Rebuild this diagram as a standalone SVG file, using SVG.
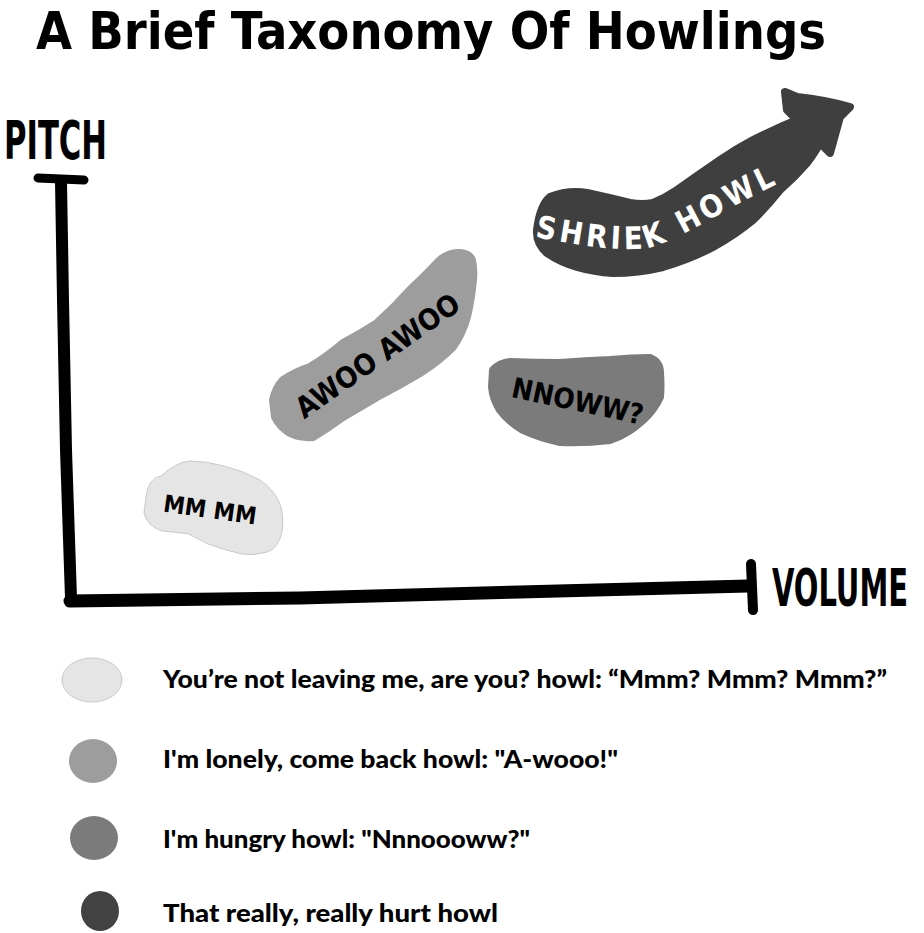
<svg xmlns="http://www.w3.org/2000/svg" width="924" height="933" viewBox="0 0 924 933">
<style>
.hand{font-family:"DejaVu Sans Condensed","Open Sans","Liberation Sans",sans-serif;font-weight:bold}
.leg{font-family:"Lato","Liberation Sans",sans-serif;font-weight:900;font-size:25px;fill:#000}
.blob{stroke-linejoin:round;stroke-width:8}
.axis{fill:none;stroke:#000;stroke-linecap:round;stroke-linejoin:round}
</style>
<rect width="924" height="933" fill="#fff"/>
<g id="title">
<text class="hand" x="36" y="49" font-size="52" textLength="790" lengthAdjust="spacingAndGlyphs">A Brief Taxonomy Of Howlings</text>
</g>
<g id="axes">
<path class="axis" stroke-width="12" d="M61,182 L63,300 L66,450 L71,598"/>
<path class="axis" stroke-width="9" d="M38,178 L84,180"/>
<path class="axis" stroke-width="13" d="M70,601 L300,598 L520,592 L748,586"/>
<path class="axis" stroke-width="10" d="M751,564 L753,610"/>
<text class="hand" x="4" y="159" font-size="54" textLength="103" lengthAdjust="spacingAndGlyphs">PITCH</text>
<g transform="translate(772,606) scale(0.62,1)">
<text class="hand" x="0" y="0" font-size="52">VOLUME</text>
</g>
</g>
<g id="mm-mm">
<path class="blob" fill="#e5e5e5" stroke="#e5e5e5" d="M150,497 Q152,482 163,480 Q176,467 190,465 Q206,465 223,470 Q242,475 257,483 Q272,493 277,507 Q280,520 278,530 Q275,545 267,548 Q255,552 243,550 Q225,546 210,540 Q198,534 190,530 Q176,528 163,527 Q150,522 148,513 Z"/>
<path fill="none" stroke="#c8c8c8" stroke-width="1" d="M146,497 Q148,478 161,476 Q176,462 190,461 Q206,461 224,466 Q244,471 260,480 Q276,491 281,507 Q284,521 282,532 Q278,549 267,552 Q254,556 242,554 Q224,550 208,544 Q196,538 189,534 Q175,532 162,531 Q147,526 144,513 Z"/>
<text class="hand" x="210" y="518" font-size="24" text-anchor="middle" transform="rotate(8 210 510)">MM MM</text>
</g>
<g id="awoo">
<path class="blob" fill="#9d9d9d" stroke="#9d9d9d" d="M273,400 Q276,387 283,380 Q295,372 310,367 Q328,356 343,343 Q360,334 377,323 Q395,307 410,290 Q426,275 440,260 Q450,252 460,253 Q470,254 472,260 Q474,270 473,280 Q471,300 467,317 Q462,334 453,347 Q438,362 420,373 Q398,386 377,397 Q360,407 343,417 Q328,428 313,437 Q300,438 290,433 Q280,427 275,417 Z"/>
<text class="hand" x="377" y="366" font-size="29" text-anchor="middle" transform="rotate(-35 377 355)">AWOO AWOO</text>
</g>
<g id="nnoww">
<path class="blob" fill="#7b7b7b" stroke="#7b7b7b" d="M493,370 Q500,363 510,362 Q535,363 560,363 Q585,361 610,360 Q632,358 650,358 Q660,362 660,373 Q661,386 660,397 Q654,410 643,420 Q628,434 610,440 Q585,443 560,442 Q540,438 523,430 Q508,421 500,410 Q493,399 492,387 Z"/>
<text class="hand" x="578" y="411" font-size="28" text-anchor="middle" transform="rotate(12 578 400)">NNOWW?</text>
</g>
<g id="shriek-howl">
<path class="blob" fill="#3f3f3f" stroke="#3f3f3f" stroke-width="4" d="M537,230 Q540,205 550,197 Q568,190 587,193 Q610,198 630,203 Q642,205 653,203 Q665,198 677,190 Q698,175 720,160 Q736,149 753,140 Q775,129 797,120 L787,110 L785,92 L797,97 Q825,100 850,107 L840,117 L830,153 L820,143 Q815,152 807,163 Q795,177 780,190 Q768,205 753,220 Q735,235 713,247 Q690,259 663,267 Q638,273 613,273 Q594,272 577,267 Q560,262 547,253 Q536,243 537,230 Z"/>
<path id="shriekPath" fill="none" d="M535,237 C570,243 610,252 648,248 C685,238 730,205 782,182"/>
<text class="hand" font-size="31" fill="#fff"><textPath href="#shriekPath" textLength="258" lengthAdjust="spacing">SHRIEK HOWL</textPath></text>
</g>
<g id="legend">
<g id="legend-1">
<ellipse cx="92" cy="680" rx="30" ry="22" fill="#e5e5e5" stroke="#c8c8c8" stroke-width="1"/>
<text class="leg" x="163" y="688" textLength="724" lengthAdjust="spacingAndGlyphs">You’re not leaving me, are you? howl: “Mmm? Mmm? Mmm?”</text>
</g>
<g id="legend-2">
<ellipse cx="93" cy="761" rx="24" ry="22" fill="#9d9d9d"/>
<text class="leg" x="163" y="768" textLength="455" lengthAdjust="spacingAndGlyphs">I'm lonely, come back howl: "A-wooo!"</text>
</g>
<g id="legend-3">
<ellipse cx="94" cy="838" rx="24" ry="22" fill="#7b7b7b"/>
<text class="leg" x="163" y="848" textLength="367" lengthAdjust="spacingAndGlyphs">I'm hungry howl: "Nnnoooww?"</text>
</g>
<g id="legend-4">
<ellipse cx="100" cy="911" rx="19" ry="20" fill="#424242"/>
<text class="leg" x="163" y="922" textLength="335" lengthAdjust="spacingAndGlyphs">That really, really hurt howl</text>
</g>
</g>
</svg>
